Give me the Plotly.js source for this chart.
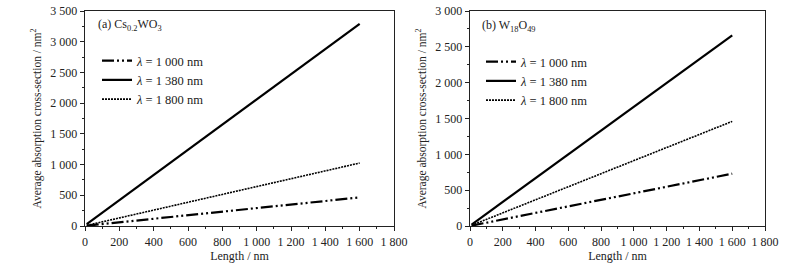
<!DOCTYPE html>
<html><head><meta charset="utf-8">
<script src="https://cdn.plot.ly/plotly-3.0.1.min.js"></script>
<style>html,body{margin:0;padding:0;background:#fff}#chart{width:809px;height:268px}</style>
</head><body><div id="chart"></div>
<script>
// Data
const lengthNm = [10, 1600];
const csWO_1000 = [5, 465];
const csWO_1380 = [30, 3290];
const csWO_1800 = [10, 1025];
const wO_1000 = [5, 730];
const wO_1380 = [20, 2660];
const wO_1800 = [10, 1460];
const seriesNames = ['<i>λ</i> = 1 000 nm', '<i>λ</i> = 1 380 nm', '<i>λ</i> = 1 800 nm'];
const panelLabels = ['(a) Cs<sub>0.2</sub>WO<sub>3</sub>', '(b) W<sub>18</sub>O<sub>49</sub>'];
const xTitle = 'Length / nm';
const yTitle = 'Average absorption cross-section / nm<sup>2</sup>';

const FONT = '"Liberation Serif", "Times New Roman", serif';
const styles = [
  {dash: '12px,3px,2px,3px,2px,3px', width: 2.2},
  {dash: 'solid', width: 2.2},
  {dash: '2px,1px', width: 1.6}
];
const W = 809, H = 268;
function tr(x, y, i, xa, ya, leg) {
  return {x: x, y: y, xaxis: xa, yaxis: ya, name: seriesNames[i], legend: leg,
    mode: 'lines', line: {color: '#000', width: styles[i].width, dash: styles[i].dash}};
}
const data = [
  tr(lengthNm, csWO_1000, 0, 'x', 'y', 'legend'),
  tr(lengthNm, csWO_1380, 1, 'x', 'y', 'legend'),
  tr(lengthNm, csWO_1800, 2, 'x', 'y', 'legend'),
  tr(lengthNm, wO_1000, 0, 'x2', 'y2', 'legend2'),
  tr(lengthNm, wO_1380, 1, 'x2', 'y2', 'legend2'),
  tr(lengthNm, wO_1800, 2, 'x2', 'y2', 'legend2')
];
const ydom = [(H-226)/H, (H-11)/H];
function xax(dom, anchor) {
  return {domain: dom, anchor: anchor, range: [0, 1800], dtick: 200, tick0: 0,
    ticks: 'outside', ticklen: 4, tickwidth: 1, tickcolor: '#222',
    minor: {dtick: 100, ticks: 'outside', ticklen: 2, tickcolor: '#222'},
    showline: true, linecolor: '#222', linewidth: 1.3, mirror: true,
    showgrid: false, zeroline: false, separatethousands: true,
    tickfont: {family: FONT, size: 12, color: '#222'},
    title: {text: xTitle, font: {family: FONT, size: 12, color: '#222'}, standoff: 0}};
}
function yax(dom, anchor, max) {
  return {domain: dom, anchor: anchor, range: [0, max], dtick: 500, tick0: 0,
    ticks: 'outside', ticklen: 4, tickwidth: 1, tickcolor: '#222',
    minor: {dtick: 250, ticks: 'outside', ticklen: 2, tickcolor: '#222'},
    showline: true, linecolor: '#222', linewidth: 1.3, mirror: true,
    showgrid: false, zeroline: false, separatethousands: true,
    tickfont: {family: FONT, size: 12, color: '#222'},
    title: {text: yTitle, font: {family: FONT, size: 11.5, color: '#222'}, standoff: 6}};
}
function leg(xpx, ypx) {
  return {x: xpx / W, y: (H - ypx) / H, xanchor: 'left', yanchor: 'top',
    bgcolor: 'rgba(0,0,0,0)', font: {family: FONT, size: 12.5, color: '#222'},
    tracegroupgap: 0, itemwidth: 30};
}
const layout = {
  width: W, height: H, margin: {l: 0, r: 0, t: 0, b: 0},
  paper_bgcolor: '#fff', plot_bgcolor: '#fff',
  font: {family: FONT},
  separators: '. ',
  showlegend: true,
  xaxis: xax([85/W, 394/W], 'y'),
  yaxis: yax(ydom, 'x', 3500),
  xaxis2: xax([470/W, 765/W], 'y2'),
  yaxis2: yax(ydom, 'x2', 3000),
  legend: leg(97, 46),
  legend2: leg(481, 47),
  annotations: [
    {text: panelLabels[0], xref: 'paper', yref: 'paper', x: 96/W, y: (H-25)/H,
     xanchor: 'left', yanchor: 'middle', showarrow: false, font: {family: FONT, size: 12, color: '#222'}},
    {text: panelLabels[1], xref: 'paper', yref: 'paper', x: 480/W, y: (H-26)/H,
     xanchor: 'left', yanchor: 'middle', showarrow: false, font: {family: FONT, size: 12, color: '#222'}}
  ]
};
Plotly.newPlot('chart', data, layout, {staticPlot: true, displayModeBar: false});
</script></body></html>
